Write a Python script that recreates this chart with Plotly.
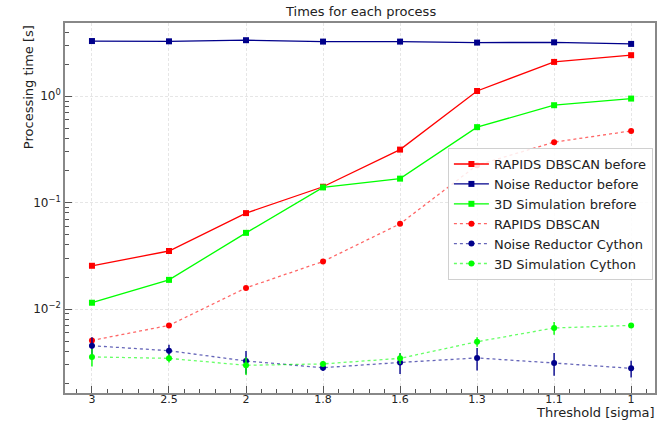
import plotly.graph_objects as go

thresholds = ["3", "2.5", "2", "1.8", "1.6", "1.3", "1.1", "1"]

rapids_before = [0.0255, 0.0351, 0.0797, 0.141, 0.315, 1.12, 2.10, 2.43]
noise_before = [3.30, 3.28, 3.36, 3.26, 3.26, 3.19, 3.21, 3.10]
sim_before = [0.01146, 0.0188, 0.052, 0.139, 0.168, 0.512, 0.823, 0.95]

rapids_after = [0.00507, 0.00702, 0.0158, 0.028, 0.0632, 0.225, 0.370, 0.472]
noise_cython = [0.00452, 0.00406, 0.00325, 0.00281, 0.00315, 0.00347, 0.00311, 0.00277]
noise_cython_err = [0.0009, 0.00057, 0.00078, 0.0002, 0.0007, 0.00083, 0.00075, 0.0005]
sim_cython = [0.00355, 0.00344, 0.00296, 0.00305, 0.00344, 0.00493, 0.00664, 0.00702]
sim_cython_err = [0.00067, 0.0003, 0.00056, 0.0002, 0.0004, 0.0005, 0.0009, 0.0003]

xs = list(range(len(thresholds)))

RED = "#ff0000"
NAVY = "#00008b"
LIME = "#00ff00"

fig = go.Figure()

def add(name, y, color, dash, symbol, err=None, line_color=None):
    fig.add_trace(go.Scatter(
        x=xs, y=y, name=name, mode="lines+markers",
        line=dict(color=line_color or color, width=1.3, dash=dash),
        marker=dict(color=color, symbol=symbol, size=6),
        error_y=(dict(type="data", array=err, visible=True, color=color,
                      thickness=1.4, width=0) if err else None),
    ))

add("RAPIDS DBSCAN before", rapids_before, RED, "solid", "square")
add("Noise Reductor before", noise_before, NAVY, "solid", "square")
add("3D Simulation brefore", sim_before, LIME, "solid", "square")
add("RAPIDS DBSCAN", rapids_after, RED, "dot", "circle",
    line_color="rgba(255,0,0,0.6)")
add("Noise Reductor Cython", noise_cython, NAVY, "dot", "circle",
    err=noise_cython_err, line_color="rgba(0,0,139,0.6)")
add("3D Simulation Cython", sim_cython, LIME, "dot", "circle",
    err=sim_cython_err, line_color="rgba(0,255,0,0.6)")

minor_y = []
for dec in [0.001, 0.01, 0.1, 1]:
    for m in range(2, 10):
        minor_y.append(dec * m)

fig.update_layout(
    width=662, height=421,
    margin=dict(l=65, r=5, t=23, b=28),
    paper_bgcolor="white", plot_bgcolor="white",
    font=dict(family="DejaVu Sans", size=13, color="#222"),
    showlegend=True,
    legend=dict(x=0.649, y=0.662, xanchor="left", yanchor="top",
                bgcolor="rgba(255,255,255,0.85)", bordercolor="#d0d0d0",
                borderwidth=1, font=dict(size=13), tracegroupgap=0,
                itemwidth=35),
    xaxis=dict(
        range=[-0.35, 7.31], tickmode="array", tickvals=xs, ticktext=thresholds,
        ticks="inside", ticklen=7, tickcolor="#555", tickwidth=1,
        showline=True, linecolor="#888", linewidth=1.5, mirror=True,
        showgrid=True, gridcolor="#e6e6e6", griddash="3px,2px", gridwidth=1,
        zeroline=False, tickfont=dict(size=11), ticklabelstandoff=-5,
        minor=dict(tickmode="linear", tick0=0, dtick=0.2, ticks="inside",
                   ticklen=4, tickcolor="#555", showgrid=False),
    ),
    yaxis=dict(
        type="log", range=[-2.789, 0.688],
        tickmode="array", tickvals=[0.01, 0.1, 1],
        ticktext=["10<sup>\u22122</sup>", "10<sup>\u22121</sup>", "10<sup>0</sup>"],
        ticks="inside", ticklen=7, tickcolor="#555", tickwidth=1,
        showline=True, linecolor="#888", linewidth=1.5, mirror=True,
        showgrid=True, gridcolor="#e6e6e6", griddash="3px,2px", gridwidth=1,
        zeroline=False, tickfont=dict(size=12),
        minor=dict(tickmode="array", tickvals=minor_y, ticks="inside",
                   ticklen=4, tickcolor="#555", showgrid=False),
    ),
    annotations=[
        dict(text="Times for each process", xref="paper", yref="paper",
             x=0.5, y=1, yshift=2, xanchor="center", yanchor="bottom",
             showarrow=False, font=dict(size=13)),
        dict(text="Processing time [s]", xref="paper", yref="paper",
             x=-0.0625, y=1.0, xanchor="center", yanchor="top",
             textangle=-90, showarrow=False, font=dict(size=13)),
        dict(text="Threshold [sigma]", xref="paper", yref="paper",
             x=1.0, xshift=2, y=0, yshift=-29, xanchor="right", yanchor="bottom",
             showarrow=False, font=dict(size=13)),
    ],
)

fig.write_html("out.html", config={"displayModeBar": False},
               post_script="document.body.style.margin='0';")
